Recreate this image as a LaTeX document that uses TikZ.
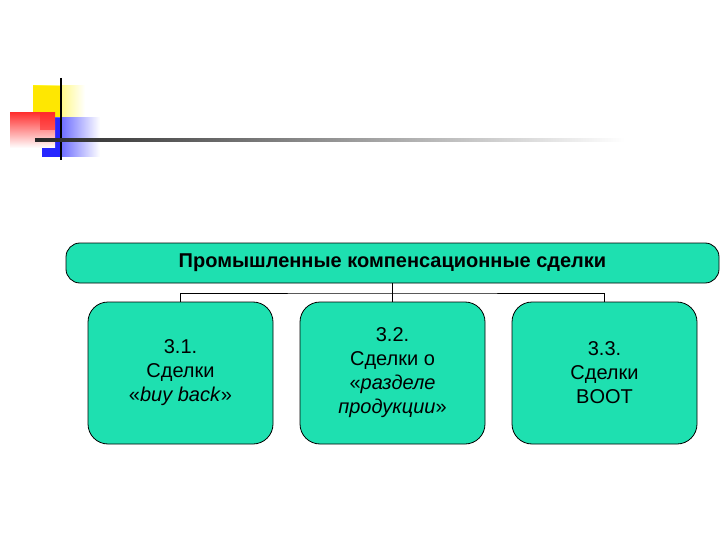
\documentclass[tikz,border=0pt]{standalone}
\usepackage{fontspec}
\setmainfont{Liberation Sans}
\begin{document}
\begin{tikzpicture}[x=1pt,y=-1pt,
  box/.style={draw=black,fill=turq,rounded corners=14pt,line width=0.8pt},
  lbl/.style={align=center,font=\fontsize{20}{24}\selectfont},
  conn/.style={line width=1pt}]
\definecolor{turq}{HTML}{1EE0B0}
\useasboundingbox (0,0) rectangle (720,540);
% decoration
\shade[left color=yellow!90!orange,right color=white] (33,86) rectangle (85,117);
\fill[yellow!90!orange] (33,86) rectangle (60,117);
\shade[left color=blue!85,right color=white] (42,118) rectangle (100,157);
\fill[blue!85] (42,118) rectangle (62,157);
\shade[top color=red!80,bottom color=white] (10,113) rectangle (55,148);
\fill[red!85,opacity=0.6] (40,113) rectangle (55,130);
\draw[line width=2.5pt] (61,78) -- (61,160);
\shade[left color=black!85,right color=white] (35,139) rectangle (625,141.5);
% diagram
\node[box,minimum width=653,minimum height=40,inner sep=0] (top) at (392.5,263)
  {\fontsize{20}{24}\selectfont\bfseries Промышленные компенсационные сделки};
\node[box,minimum width=185,minimum height=142,inner sep=0,rounded corners=20pt] (b1) at (180.5,373) {};
\node[box,minimum width=185,minimum height=142,inner sep=0,rounded corners=20pt] (b2) at (392.5,373) {};
\node[box,minimum width=185,minimum height=142,inner sep=0,rounded corners=20pt] (b3) at (604.5,373) {};
\node[lbl] (t1) at (b1) {3.1.\\Сделки\\«\textit{buy back}»};
\node[lbl] (t2) at (b2) {3.2.\\Сделки о\\«\textit{разделе}\\\textit{продукции}»};
\node[lbl] (t3) at (b3) {3.3.\\Сделки\\BOOT};
\coordinate (m) at (392.5,293);
\draw[conn] (top.south) -- (m);
\draw[conn] (b1.north) |- (m) -| (b3.north);
\draw[conn] (m) -- (b2.north);
\end{tikzpicture}
\end{document}
